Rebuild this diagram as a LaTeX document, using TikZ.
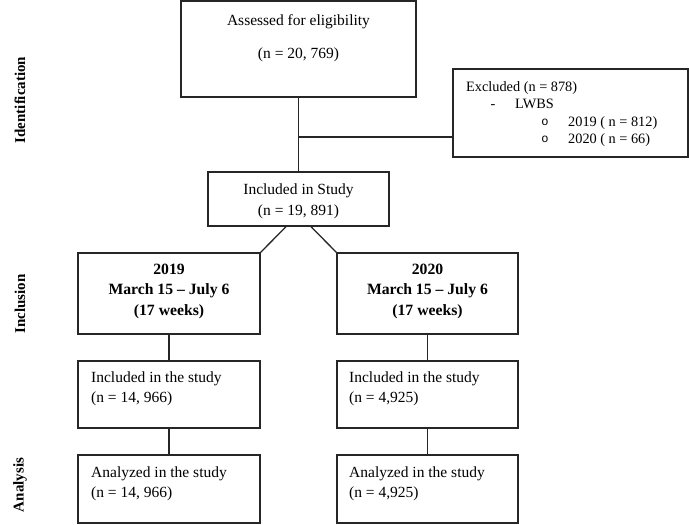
\documentclass[tikz,border=0pt]{standalone}
\usepackage{fontspec}
\setmainfont{Liberation Serif}
\newfontfamily\monofnt{Liberation Mono}
\begin{document}
\begin{tikzpicture}[x=1pt,y=-1pt,
  box/.style={draw=black!85, line width=1.3pt, rectangle, inner sep=0pt},
  conn/.style={draw=black!85, line width=1.3pt},
  txt/.style={inner sep=0pt, anchor=base, font=\fontsize{15.5}{20}\selectfont},
  txtl/.style={inner sep=0pt, anchor=base west, font=\fontsize{15.5}{20}\selectfont},
  txtb/.style={inner sep=0pt, anchor=base, font=\fontsize{15.7}{20}\selectfont\bfseries},
  ex/.style={inner sep=0pt, anchor=base west, font=\fontsize{14.3}{17}\selectfont},
  bul/.style={inner sep=0pt, anchor=base, font=\fontsize{12}{14}\monofnt},
  side/.style={inner sep=0pt, rotate=90, anchor=center, font=\fontsize{15}{18}\selectfont\bfseries}]
\useasboundingbox (0,0) rectangle (689,525);
% boxes
\node[box, minimum width=235pt, minimum height=96pt] (top) at (298.5,49) {};
\node[box, minimum width=235pt, minimum height=88pt] (excl) at (570.5,113) {};
\node[box, minimum width=181pt, minimum height=54pt] (incl) at (298.5,199) {};
\node[box, minimum width=182pt, minimum height=81pt] (y19) at (169,293.5) {};
\node[box, minimum width=181pt, minimum height=81pt] (y20) at (427.5,293.5) {};
\node[box, minimum width=182pt, minimum height=67pt] (inc19) at (169,394.5) {};
\node[box, minimum width=181pt, minimum height=67pt] (inc20) at (427.5,394.5) {};
\node[box, minimum width=182pt, minimum height=68pt] (an19) at (169,489) {};
\node[box, minimum width=181pt, minimum height=68pt] (an20) at (427.5,489) {};
% connectors
\coordinate (j) at (298.5,137);
\draw[conn] (top.south) -- (incl.north);
\draw[conn] (j) -- (j -| excl.west);
\draw[conn] ([xshift=-12.5pt]incl.south) -- (y19.north east);
\draw[conn] ([xshift=12.5pt]incl.south) -- (y20.north west);
\draw[conn] (y19.south) -- (inc19.north);
\draw[conn] (inc19.south) -- (an19.north);
\draw[conn] (y20.south) -- (inc20.north);
\draw[conn] (inc20.south) -- (an20.north);
% texts
\node[txt] (t1) at (298.5,25) {Assessed for eligibility};
\node[txt] (t2) at (298.5,58) {(n = 20, 769)};
\node[ex] (e1) at (466,91) {Excluded (n = 878)};
\node[ex, anchor=base] (e2) at (493,108) {-};
\node[ex] (e3) at (515,108) {LWBS};
\node[bul] (e4) at (545,125) {o};
\node[ex] (e5) at (568,126) {2019 ( n = 812)};
\node[bul] (e6) at (545,142) {o};
\node[ex] (e7) at (568,143) {2020 ( n = 66)};
\node[txt] (i1) at (298.5,194) {Included in Study};
\node[txt] (i2) at (298.5,215) {(n = 19, 891)};
\node[txtb] (a1) at (169,274) {2019};
\node[txtb] (a2) at (169,294) {March 15 -- July 6};
\node[txtb] (a3) at (169,315) {(17 weeks)};
\node[txtb] (b1) at (427.5,274) {2020};
\node[txtb] (b2) at (427.5,294) {March 15 -- July 6};
\node[txtb] (b3) at (427.5,315) {(17 weeks)};
\node[txtl] (c1) at (91,382) {Included in the study};
\node[txtl] (c2) at (91,402) {(n = 14, 966)};
\node[txtl] (c3) at (91,477) {Analyzed in the study};
\node[txtl] (c4) at (91,497) {(n = 14, 966)};
\node[txtl] (d1) at (349,382) {Included in the study};
\node[txtl] (d2) at (349,402) {(n = 4,925)};
\node[txtl] (d3) at (349,477) {Analyzed in the study};
\node[txtl] (d4) at (349,497) {(n = 4,925)};
\node[side] (s1) at (20,100) {Identification};
\node[side] (s2) at (20,304) {Inclusion};
\node[side] (s3) at (20,485) {Analysis};
\end{tikzpicture}
\end{document}
